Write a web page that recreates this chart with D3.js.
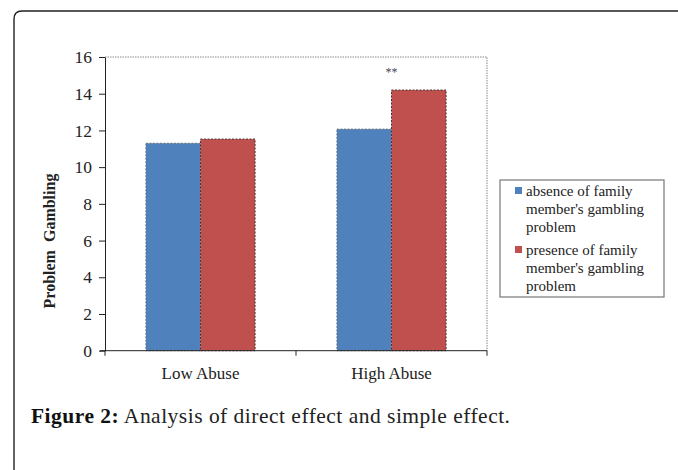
<html lang="en">
<head>
<meta charset="utf-8">
<script src="https://cdnjs.cloudflare.com/ajax/libs/d3/7.8.5/d3.min.js"></script>
<style>
body { margin: 0; background: #fff; }
svg { display: block; }
text { font-family: 'Liberation Serif', 'DejaVu Serif', serif; fill: #222; }
</style>
</head>
<body>
<svg width="678" height="470"></svg>
<script>
// data
const categories = ['Low Abuse', 'High Abuse'];
const seriesNames = ['absence', 'presence'];
const absenceValues = [11.3, 12.07];
const presenceValues = [11.53, 14.2];
const yTicks = [0, 2, 4, 6, 8, 10, 12, 14, 16];
const legendLines = [
  ['absence of family', "member's gambling", 'problem'],
  ['presence of family', "member's gambling", 'problem']
];
const colors = ['#4f81bd', '#c0504d'];

const svg = d3.select('svg');

// page frame with rounded top-left corner
svg.append('path')
  .attr('d', 'M14,470 V19 Q14,11 22,11 H678')
  .attr('fill', 'none')
  .attr('stroke', '#222')
  .attr('stroke-width', 1.4);

const plotL = 105, plotR = 487, plotT = 57, plotB = 350.7;

const x = d3.scaleBand().domain(categories).range([plotL, plotR]);
const xs = d3.scaleBand().domain(seriesNames).range([0, x.bandwidth()]).paddingOuter(0.75);
const y = d3.scaleLinear().domain([0, 16]).range([plotB, plotT]);

// plot area border (top/right)
svg.append('path')
  .attr('d', `M${plotL},${plotT} H${plotR} V${plotB}`)
  .attr('fill', 'none')
  .attr('stroke', '#888')
  .attr('stroke-dasharray', '1.5 1');

// bars
const rows = categories.map((c, i) => [
  { cat: c, s: 'absence', v: absenceValues[i] },
  { cat: c, s: 'presence', v: presenceValues[i] }
]).flat();

svg.selectAll('.bar')
  .data(rows)
  .enter()
  .append('rect')
  .classed('bar', true)
  .attr('x', d => x(d.cat) + xs(d.s))
  .attr('y', d => y(d.v))
  .attr('width', xs.bandwidth())
  .attr('height', d => plotB - y(d.v))
  .attr('fill', d => d.s === 'absence' ? colors[0] : colors[1])
  .attr('stroke', d => d.s === 'absence' ? '#6a6f7a' : '#4a3434')
  .attr('stroke-width', 1)
  .attr('stroke-dasharray', '2 1.5');

// significance marker
svg.append('text')
  .attr('x', x('High Abuse') + x.bandwidth() / 2)
  .attr('y', y(14.2) - 14)
  .attr('text-anchor', 'middle')
  .style('font-size', '12px')
  .style('fill', '#445')
  .text('**');

// y axis
const yAxis = svg.append('g')
  .attr('transform', `translate(${plotL},0)`)
  .call(d3.axisLeft(y).tickValues(yTicks).tickSize(6).tickSizeOuter(0).tickPadding(7))
  .attr('font-family', "'Liberation Serif', serif")
  .attr('font-size', 17.5);
yAxis.select('.domain').attr('stroke', '#222');
yAxis.selectAll('.tick line').attr('stroke', '#222');
yAxis.selectAll('.tick text').attr('fill', '#222');

// x axis
const xAxis = svg.append('g')
  .attr('transform', `translate(0,${plotB})`)
  .call(d3.axisBottom(x).tickSize(0).tickPadding(16))
  .attr('font-family', "'Liberation Serif', serif")
  .attr('font-size', 17);
xAxis.select('.domain').attr('d', `M${plotL - 5},0 H${plotR}`).attr('stroke', '#222');
xAxis.selectAll('.tick text').attr('fill', '#333');
// boundary ticks between categories
xAxis.selectAll('.sep')
  .data([plotL, x('High Abuse'), plotR])
  .enter()
  .append('line')
  .attr('x1', d => d).attr('x2', d => d)
  .attr('y1', 0).attr('y2', 5)
  .attr('stroke', '#222');

// y label
svg.append('text')
  .attr('transform', 'translate(55,241) rotate(-90)')
  .attr('text-anchor', 'middle')
  .style('font-size', '16px')
  .style('font-weight', 'bold')
  .attr('xml:space', 'preserve')
  .text('Problem  Gambling');

// legend
const lg = svg.append('g');
lg.append('rect')
  .attr('x', 500).attr('y', 180)
  .attr('width', 164).attr('height', 117)
  .attr('fill', '#fff')
  .attr('stroke', '#777')
  .attr('stroke-width', 1.2);

const groupTop = [196, 255];
legendLines.forEach((lines, i) => {
  lg.append('rect')
    .attr('x', 515).attr('y', groupTop[i] - 9)
    .attr('width', 7).attr('height', 7)
    .attr('fill', colors[i]);
  lines.forEach((t, j) => {
    lg.append('text')
      .attr('x', 526)
      .attr('y', groupTop[i] + j * 18)
      .style('font-size', '15px')
      .text(t);
  });
});

// caption
const cap = svg.append('text')
  .attr('x', 31)
  .attr('y', 423)
  .attr('textLength', 479)
  .attr('lengthAdjust', 'spacing')
  .style('font-size', '21.5px');
cap.append('tspan').style('font-weight', 'bold').style('fill', '#111').text('Figure 2:');
cap.append('tspan').text(' Analysis of direct effect and simple effect.');
</script>
</body>
</html>
